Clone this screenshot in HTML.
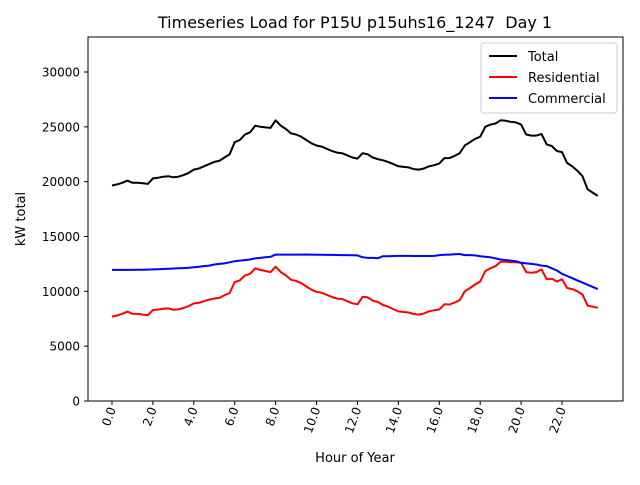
<!DOCTYPE html>
<html><head><meta charset="utf-8"><style>
body{margin:0;background:#fff;}
svg text{font-family:"DejaVu Sans","Liberation Sans",sans-serif;fill:#000;}
</style></head><body>
<svg id="chart" width="640" height="480" xmlns="http://www.w3.org/2000/svg">
<rect width="640" height="480" fill="#fff"/>
<text x="355" y="28" font-size="16" text-anchor="middle">Timeseries Load for P15U p15uhs16_1247&#160; Day 1</text>
<g id="grid"></g>
<g id="series"></g>
<rect x="88" y="37" width="535" height="364" fill="none" stroke="#000" stroke-width="1"/>
<g id="axes"></g>
<text x="355" y="462" font-size="13" text-anchor="middle">Hour of Year</text>
<text transform="translate(25,219) rotate(-90)" font-size="13" text-anchor="middle">kW total</text>
<g>
<rect x="481" y="43" width="136" height="70" rx="3" fill="#fff" stroke="#ccc"/>
<g><line x1="489" y1="56" x2="517" y2="56" stroke="#000" stroke-width="2"/><text x="528" y="61" font-size="13">Total</text></g>
<g><line x1="489" y1="77" x2="517" y2="77" stroke="red" stroke-width="2"/><text x="528" y="82" font-size="13">Residential</text></g>
<g><line x1="489" y1="98" x2="517" y2="98" stroke="blue" stroke-width="2"/><text x="528" y="103" font-size="13">Commercial</text></g>
</g>
</svg>
<script>
const hours = Array.from({length:96},(_,i)=>i*0.25);
const total = [19650,19750,19900,20100,19900,19900,19850,19800,20300,20350,20450,20500,20400,20450,20600,20800,21100,21200,21400,21600,21800,21900,22200,22500,23600,23800,24300,24500,25100,25000,24950,24900,25600,25100,24800,24400,24300,24100,23800,23500,23300,23200,23000,22800,22650,22600,22400,22200,22100,22600,22500,22200,22050,21950,21800,21600,21400,21350,21300,21150,21100,21200,21400,21500,21650,22150,22150,22350,22600,23300,23600,23900,24100,25000,25200,25300,25600,25550,25450,25400,25200,24300,24200,24200,24350,23400,23250,22800,22700,21700,21400,21000,20500,19300,19000,18700];
const residential = [7700,7800,7950,8150,7950,7940,7880,7820,8300,8330,8410,8440,8320,8350,8480,8650,8900,8950,9100,9250,9350,9400,9650,9850,10850,11000,11450,11600,12100,11950,11850,11750,12250,11750,11450,11050,10950,10750,10440,10150,9960,9870,9680,9480,9340,9300,9100,8910,8820,9500,9450,9150,9030,8750,8600,8380,8170,8120,8070,7930,7880,7980,8180,8270,8350,8820,8800,8970,9200,10000,10300,10620,10900,11850,12100,12300,12700,12700,12650,12650,12600,11750,11700,11750,12000,11100,11150,10900,11100,10300,10200,10000,9700,8700,8600,8500];
const commercial = [11950,11950,11950,11950,11950,11960,11970,11980,12000,12020,12040,12060,12080,12100,12120,12150,12200,12250,12300,12350,12450,12500,12550,12650,12750,12800,12850,12900,13000,13050,13100,13150,13350,13350,13350,13350,13350,13350,13360,13350,13340,13330,13320,13320,13310,13300,13300,13290,13280,13100,13050,13050,13020,13200,13200,13220,13230,13230,13230,13220,13220,13220,13220,13230,13300,13330,13350,13380,13400,13300,13300,13280,13200,13150,13100,13000,12900,12850,12800,12750,12600,12550,12500,12450,12350,12300,12100,11900,11600,11400,11200,11000,10800,10600,10400,10200];
const xTicks = [0,2,4,6,8,10,12,14,16,18,20,22];
const yTicks = [0,5000,10000,15000,20000,25000,30000];

const NS="http://www.w3.org/2000/svg";
const xs = h => 112 + h*(450/22);
const ys = v => 401 - v*(329/30000);
const axes=document.getElementById('axes'), ser=document.getElementById('series');
function mk(tag,attrs,parent){const e=document.createElementNS(NS,tag);for(const k in attrs)e.setAttribute(k,attrs[k]);parent.appendChild(e);return e;}
yTicks.forEach(v=>{
  const y=ys(v);
  const t=mk('line',{x1:84,x2:88,y1:y,y2:y,stroke:'#000'},axes);
  
  
  const l=mk('text',{x:80,y:y+4.5,'font-size':12,'text-anchor':'end'},axes);
  l.textContent=v;
  
  
});
xTicks.forEach(h=>{
  const x=xs(h);
  const t=mk('line',{x1:x,x2:x,y1:401,y2:405,stroke:'#000'},axes);
  
  
  const l=mk('text',{transform:`translate(${x+4},${409}) rotate(-70)`,'font-size':12,'text-anchor':'end'},axes);
  l.textContent=h.toFixed(1);
  
  
});
[[total,'#000','total-line'],[residential,'red','residential-line'],[commercial,'blue','commercial-line']].forEach(([d,c,n])=>{
  const p=mk('polyline',{points:d.map((v,i)=>xs(hours[i]).toFixed(1)+','+ys(v).toFixed(1)).join(' '),fill:'none',stroke:c,'stroke-width':2,'stroke-linejoin':'round'},ser);
  
  
});
</script>
</body></html>
